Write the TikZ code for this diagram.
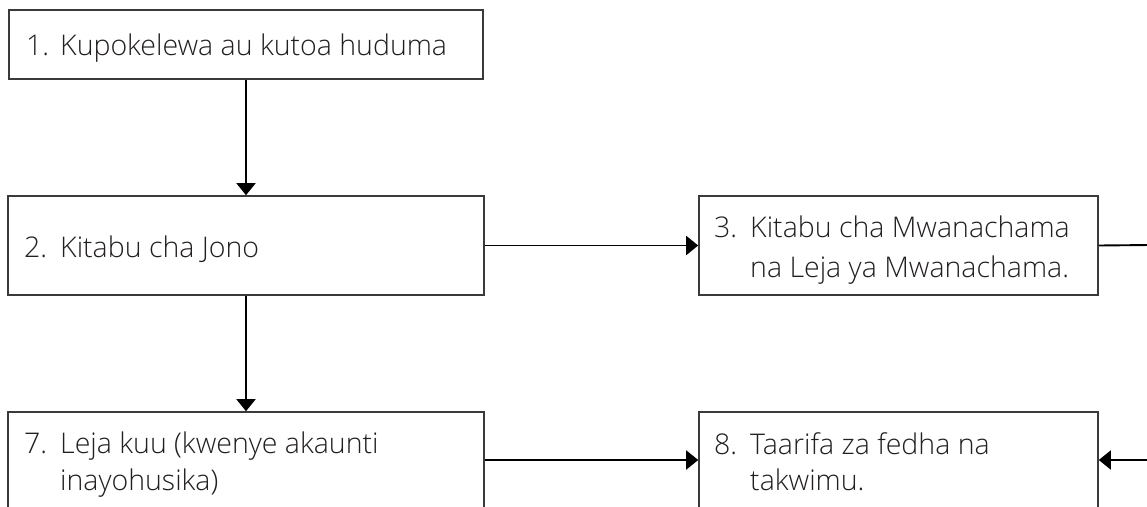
\documentclass[tikz,border=0pt]{standalone}
\usepackage{fontspec}
\setmainfont{Open Sans}[UprightFont=* Light]
\usetikzlibrary{arrows.meta}
\definecolor{boxline}{HTML}{3A3A3A}
\definecolor{txt}{HTML}{231F20}
\tikzset{
  box/.style={draw=boxline, line width=1.6pt, fill=white, rectangle, inner sep=0pt},
  lbl/.style={anchor=base west, inner sep=0pt, text=txt, font=\fontsize{28.5}{32}\selectfont},
  conn/.style={draw=black, line width=1.9pt, -{Triangle[length=12pt,width=19pt]}},
  plain/.style={draw=black, line width=1.9pt}
}
\begin{document}
\begin{tikzpicture}[x=1pt,y=-1pt]
\useasboundingbox (0,0) rectangle (1147,506);
\clip (0,0) rectangle (1147,506);
\fill[white] (0,0) rectangle (1147,506);
% boxes
\node[box, minimum width=474pt, minimum height=69pt] (b1) at (246,44.5) {};
\node[box, minimum width=476pt, minimum height=99pt] (b2) at (246,245.5) {};
\node[box, minimum width=399pt, minimum height=99pt] (b3) at (898.5,245.5) {};
\node[box, minimum width=476pt, minimum height=118pt] (b7) at (246,471) {};
\node[box, minimum width=399pt, minimum height=118pt] (b8) at (898.5,471) {};
% texts
\node[lbl] (n1) at (26,55) {1.};
\node[lbl] (t1) at (60,55) {Kupokelewa au kutoa huduma};
\node[lbl] (n2) at (24,257) {2.};
\node[lbl] (t2) at (60,257) {Kitabu cha Jono};
\node[lbl] (n3) at (714,237) {3.};
\node[lbl] (t3a) at (750,237) {Kitabu cha Mwanachama};
\node[lbl] (t3b) at (750,277) {na Leja ya Mwanachama.};
\node[lbl] (n7) at (24,453) {7.};
\node[lbl] (t7a) at (60,453) {Leja kuu (kwenye akaunti};
\node[lbl] (t7b) at (60,490) {inayohusika)};
\node[lbl] (n8) at (714,454) {8.};
\node[lbl] (t8a) at (750,454) {Taarifa za fedha na};
\node[lbl] (t8b) at (750,490) {takwimu.};
% connectors
\coordinate (r3) at (1150,245);
\coordinate (r8) at (1150,460);
\draw[conn] (b1.south) -- (b2.north);
\draw[conn] (b2.south) -- (b7.north);
\draw[conn] (b2.east) -- (b3.west);
\draw[plain] (b3.east) -- (r3);
\draw[conn] (b7.east |- 0,460) coordinate (s7) -- (b8.west |- s7);
\draw[conn] (r8) -- (b8.east |- r8);
\end{tikzpicture}
\end{document}
